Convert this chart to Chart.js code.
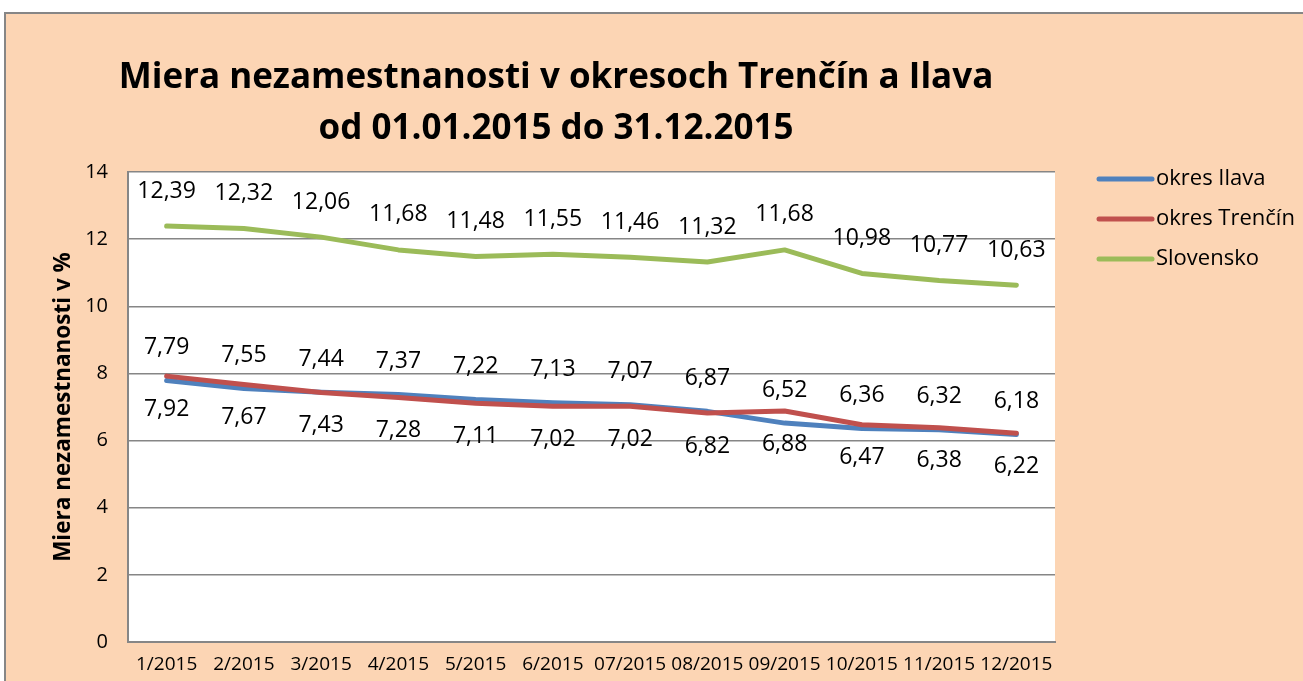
<!DOCTYPE html>
<html>
<head>
<meta charset="utf-8">
<script src="https://cdn.jsdelivr.net/npm/chart.js@4.4.0/dist/chart.umd.min.js"></script>
<style>
  body { margin: 0; background: #ffffff; overflow: hidden; }
  #frame {
    position: absolute; left: 4px; top: 12px; width: 1320px; height: 700px;
    background: #FCD5B4; border-top: 2px solid #868686; border-left: 2px solid #868686;
  }
  #chart { position: absolute; left: 0; top: 0; }
</style>
</head>
<body>
<div id="frame"></div>
<canvas id="chart" width="1303" height="681"></canvas>
<script>
// Months on the x axis
const months = ['1/2015', '2/2015', '3/2015', '4/2015', '5/2015', '6/2015',
                '07/2015', '08/2015', '09/2015', '10/2015', '11/2015', '12/2015'];

// Unemployment rate in %
const ilava = [7.79, 7.55, 7.44, 7.37, 7.22, 7.13, 7.07, 6.87, 6.52, 6.36, 6.32, 6.18];
const trencin = [7.92, 7.67, 7.43, 7.28, 7.11, 7.02, 7.02, 6.82, 6.88, 6.47, 6.38, 6.22];
const slovensko = [12.39, 12.32, 12.06, 11.68, 11.48, 11.55, 11.46, 11.32, 11.68, 10.98, 10.77, 10.63];

const titleLines = ['Miera nezamestnanosti v okresoch Trenčín a Ilava', 'od 01.01.2015 do 31.12.2015'];
const yTitle = 'Miera nezamestnanosti v %';

const FONT = '"Open Sans", "Noto Sans", sans-serif';

// plot background, title, point labels and legend
const decorPlugin = {
    id: 'decor',
    beforeDraw(chart) {
        const { ctx, chartArea } = chart;
        ctx.save();
        ctx.fillStyle = '#ffffff';
        ctx.fillRect(chartArea.left, chartArea.top, chartArea.right - chartArea.left, chartArea.bottom - chartArea.top);
        ctx.restore();
    },
    afterDatasetsDraw(chart) {
        const ctx = chart.ctx;
        ctx.save();
        ctx.font = '23px ' + FONT;
        ctx.fillStyle = '#000000';
        ctx.textAlign = 'center';
        ctx.textBaseline = 'middle';
        chart.data.datasets.forEach((ds, i) => {
            const meta = chart.getDatasetMeta(i);
            meta.data.forEach((pt, j) => {
                const txt = ds.data[j].toFixed(2).replace('.', ',');
                ctx.fillText(txt, pt.x, pt.y + ds.labelOffset);
            });
        });
        ctx.restore();
    },
    afterDraw(chart) {
        const ctx = chart.ctx;
        ctx.save();
        // title
        ctx.font = 'bold 35px ' + FONT;
        ctx.fillStyle = '#000000';
        ctx.textAlign = 'center';
        ctx.textBaseline = 'middle';
        ctx.fillText(titleLines[0], 556, 78);
        ctx.fillText(titleLines[1], 556, 129);

        // legend
        const ys = [179, 219, 259];
        ctx.font = '22px ' + FONT;
        ctx.textAlign = 'left';
        chart.data.datasets.forEach((ds, k) => {
            ctx.strokeStyle = ds.borderColor;
            ctx.lineWidth = 5;
            ctx.lineCap = 'round';
            ctx.beginPath();
            ctx.moveTo(1099, ys[k]);
            ctx.lineTo(1152, ys[k]);
            ctx.stroke();
            ctx.fillText(ds.label, 1156, ys[k]);
        });
        ctx.restore();
    }
};

new Chart(document.getElementById('chart'), {
    type: 'line',
    data: {
        labels: months,
        datasets: [
            { label: 'okres Ilava', data: ilava, borderColor: '#4F81BD', labelOffset: -33, order: 2 },
            { label: 'okres Trenčín', data: trencin, borderColor: '#C0504D', labelOffset: 33, order: 1 },
            { label: 'Slovensko', data: slovensko, borderColor: '#9BBB59', labelOffset: -35, order: 0 }
        ].map(d => Object.assign({
            borderWidth: 5,
            pointRadius: 0,
            tension: 0,
            fill: false,
            borderCapStyle: 'round',
            borderJoinStyle: 'round'
        }, d))
    },
    options: {
        responsive: false,
        devicePixelRatio: 1,
        animation: false,
        layout: { padding: { left: 50, top: 172, right: 248, bottom: 0 } },
        plugins: {
            legend: { display: false },
            title: { display: false },
            tooltip: { enabled: false }
        },
        scales: {
            x: {
                offset: true,
                grid: { display: false, drawTicks: false },
                border: { color: '#868686', width: 2 },
                ticks: { color: '#000000', font: { family: FONT, size: 19 }, padding: 11, maxRotation: 0, autoSkip: false },
                afterFit(scale) { scale.height = 39; }
            },
            y: {
                min: 0,
                max: 14,
                ticks: { stepSize: 2, color: '#000000', font: { family: FONT, size: 20 }, padding: 20 },
                grid: { color: '#868686', lineWidth: 1.5, drawTicks: false },
                border: { color: '#868686', width: 2 },
                title: { display: true, text: yTitle, color: '#000000', font: { family: FONT, size: 22.5, weight: 'bold' }, padding: 0 },
                afterFit(scale) { scale.width = 78; }
            }
        }
    },
    plugins: [decorPlugin]
});
</script>
</body>
</html>
